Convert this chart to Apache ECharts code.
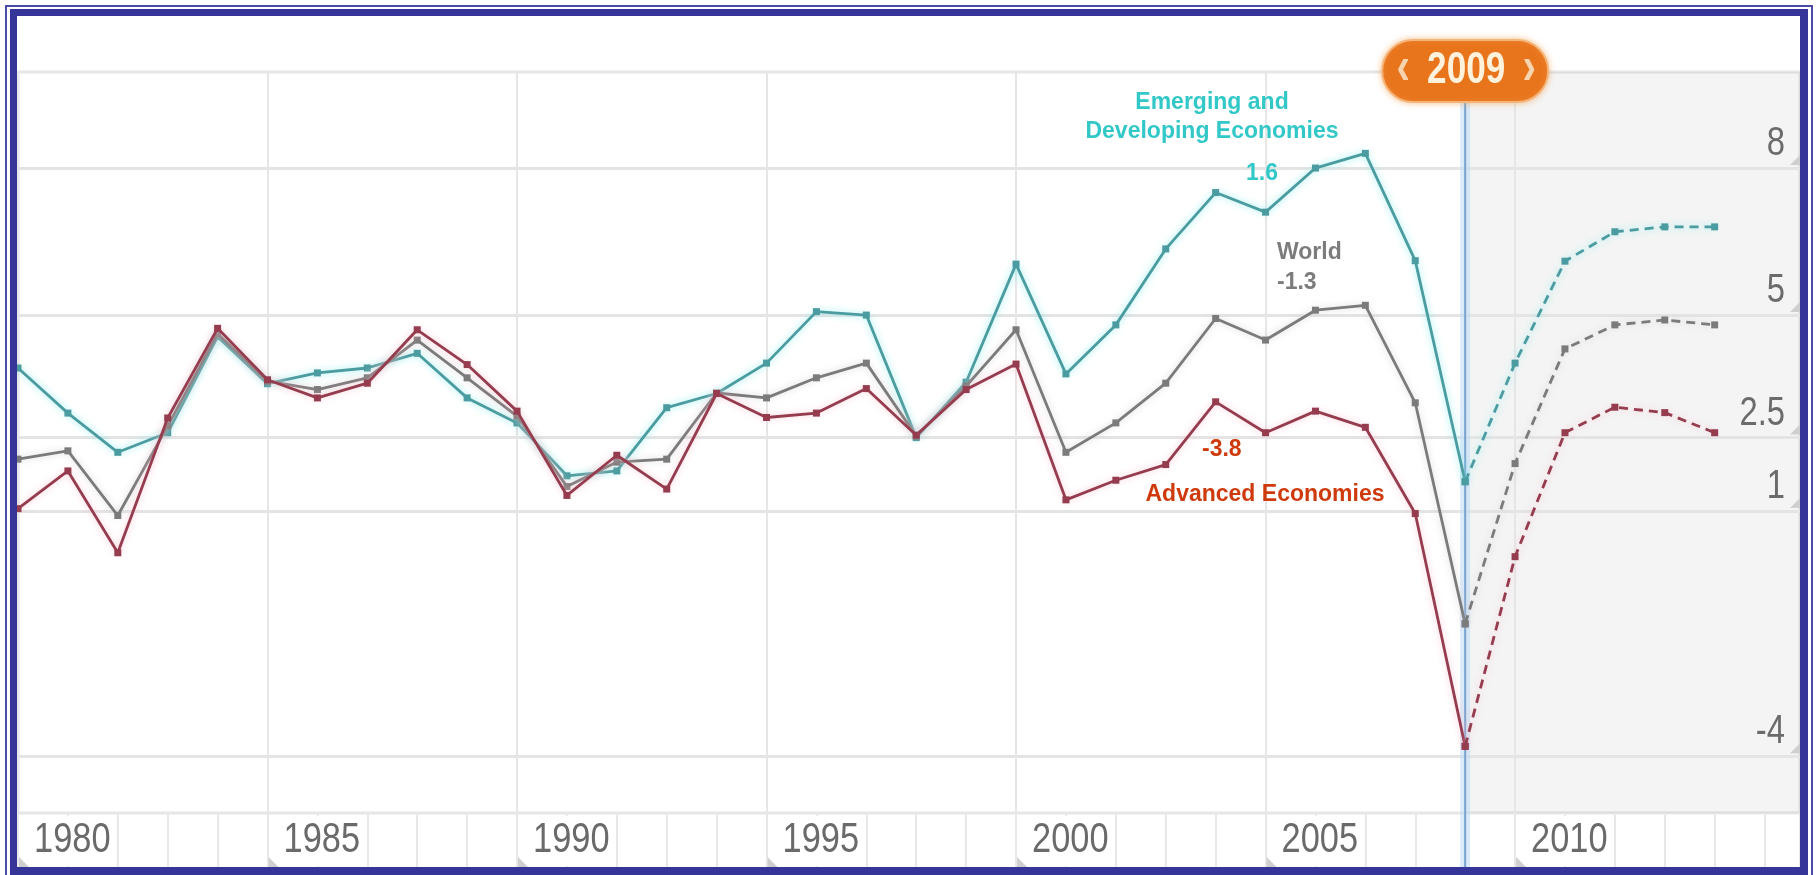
<!DOCTYPE html>
<html>
<head>
<meta charset="utf-8">
<script src="https://cdn.jsdelivr.net/npm/echarts@6/dist/echarts.min.js"></script>
<style>
html,body{margin:0;padding:0;background:#fff;overflow:hidden;}
#chart{position:absolute;left:0;top:0;width:1818px;height:875px;}
#thin{position:absolute;left:5px;top:5px;width:1804px;height:900px;border:2px solid #4a4aa8;pointer-events:none;}
#thick{position:absolute;left:10px;top:9px;right:10px;bottom:0;border-style:solid;border-color:#343499;border-width:7px 8px 8px 7px;pointer-events:none;}
</style>
</head>
<body>
<div id="chart"></div>
<div id="thin"></div>
<div id="thick"></div>
<script>
// ---- data ----
const years = [1980,1981,1982,1983,1984,1985,1986,1987,1988,1989,1990,1991,1992,1993,1994,1995,1996,1997,1998,1999,2000,2001,2002,2003,2004,2005,2006,2007,2008,2009,2010,2011,2012,2013,2014];
const emerging = [3.92,3.0,2.2,2.6,4.56,3.6,3.82,3.92,4.22,3.31,2.8,1.72,1.82,3.11,3.4,4.02,5.07,5.0,2.5,3.63,6.04,3.8,4.8,6.35,7.5,7.1,8.0,8.3,6.11,1.6,4.02,6.1,6.7,6.8,6.8];
const world    = [2.06,2.23,0.91,2.74,4.62,3.65,3.48,3.72,4.49,3.72,2.94,1.5,2.0,2.06,3.41,3.31,3.72,4.02,2.53,3.55,4.7,2.2,2.8,3.61,4.93,4.49,5.1,5.2,3.21,-1.3,1.97,4.31,4.8,4.9,4.8];
const advanced = [1.05,1.82,0.15,2.9,4.73,3.68,3.31,3.61,4.7,3.99,3.04,1.32,2.14,1.45,3.4,2.91,3.0,3.5,2.55,3.48,4.0,1.23,1.63,1.95,3.23,2.6,3.04,2.71,0.95,-3.8,0.07,2.6,3.12,3.01,2.6];
const forecastStart = 2009;
const yTicks = [8, 5, 2.5, 1, -4];
const xLabelYears = [1980, 1985, 1990, 1995, 2000, 2005, 2010];
const seriesNames = ['Emerging and Developing Economies', 'World', 'Advanced Economies'];

// ---- axis ranges / styling ----
const xMin = 1980, xMax = 2015.71;
const yMin = -5.16, yMax = 9.96;
const BAND = 54;            // height of the year band under the plot
const SANS = "'Liberation Sans',Arial,sans-serif";
const NARROW_X = 0.8;       // horizontal squeeze to mimic a narrow face
const colors = {
  emerging: {line:'#4b9ca0', glow:'rgba(120,235,235,0.8)'},
  world:    {line:'#7b7b7b', glow:'rgba(205,205,205,0.8)'},
  advanced: {line:'#963c4f', glow:'rgba(250,185,200,0.8)'}
};

const chart = echarts.init(document.getElementById('chart'), null, {renderer:'canvas'});

const fIdx = years.indexOf(forecastStart);
function actualPart(vals){ return years.slice(0, fIdx + 1).map((y, i) => [y, vals[i]]); }
function forecastPart(vals){ return years.slice(fIdx).map((y, i) => [y, vals[fIdx + i]]); }

function lineSeries(name, vals, c, dashed, z){
  return {
    name: name, type: 'line', z: z,
    data: dashed ? forecastPart(vals) : actualPart(vals),
    symbol: 'rect', symbolSize: 7, showSymbol: true,
    itemStyle: {color: c.line},
    lineStyle: {color: c.line, width: 2.8, type: dashed ? [9, 6] : 'solid',
                shadowColor: c.glow, shadowBlur: 7},
    emphasis: {disabled: true},
    silent: true
  };
}

const option = {
  animation: false,
  backgroundColor: '#ffffff',
  grid: {left: 18, right: 18, top: 72, bottom: 62, show: true,
         backgroundColor: '#ffffff', borderColor: '#e6e6e6', borderWidth: 3,
         outerBoundsMode: 'none', containLabel: false},
  xAxis: {
    type: 'value', min: xMin, max: xMax, interval: 1,
    axisLine: {show: false, onZero: false},
    splitLine: {show: false},
    axisTick: {show: true, inside: false, length: BAND, lineStyle: {color: '#e8e8e8', width: 2}},
    axisLabel: {show: false}
  },
  yAxis: {
    type: 'value', min: yMin, max: yMax, position: 'right',
    axisLine: {show: false}, axisTick: {show: false}, axisLabel: {show: false},
    splitLine: {show: false}
  },
  series: [
    { // forecast shading + gridlines
      name: 'grid', type: 'line', z: 1, silent: true, data: [[xMin, null]],
      symbol: 'none',
      markArea: {silent: true, z: 1, itemStyle: {color: 'rgba(0,0,0,0.045)'},
                 data: [[{xAxis: forecastStart}, {xAxis: xMax}]]},
      markLine: {
        silent: true, z: 2, symbol: ['none', 'none'],
        label: {show: false},
        lineStyle: {color: '#e4e4e4', width: 3, type: 'solid'},
        data: yTicks.map(v => ({yAxis: v}))
          .concat(xLabelYears.map(v => ({xAxis: v, lineStyle: {color: '#e6e6e6', width: 2, type: 'solid'}})))
      }
    },
    { // y tick labels + corner triangles
      name: 'yLabels', type: 'custom', z: 8, silent: true, clip: false,
      data: yTicks.map(v => [xMax, v]),
      renderItem: function(params, api){
        const v = api.value(1);
        const p = api.coord([xMax, v]);
        const R = p[0];
        return {type: 'group', children: [
          {type: 'text', x: R - 15, y: p[1] - 24, scaleX: NARROW_X,
           style: {text: String(v), x: 0, y: 0, align: 'right', verticalAlign: 'middle',
                   fill: '#6b6b6b', font: '41px ' + SANS}},
          {type: 'polygon', shape: {points: [[R, p[1] - 13], [R, p[1] - 3], [R - 10, p[1] - 3]]},
           style: {fill: '#cfcfcf'}}
        ]};
      }
    },
    { // x tick labels in the year band
      name: 'xLabels', type: 'custom', z: 8, silent: true, clip: false,
      data: xLabelYears.map(v => [v, yMin]),
      renderItem: function(params, api){
        const yr = api.value(0);
        const p = api.coord([yr, yMin]);
        const bandTop = p[1];
        return {type: 'group', children: [
          {type: 'rect', shape: {x: p[0] + 3, y: bandTop + 3, width: 93, height: BAND - 4},
           style: {fill: '#ffffff'}},
          {type: 'text', x: p[0] + 16, y: bandTop + 27, scaleX: NARROW_X,
           style: {text: String(yr), x: 0, y: 0, align: 'left', verticalAlign: 'middle',
                   fill: '#6a6a6a', font: '43px ' + SANS}},
          {type: 'polygon', shape: {points: [[p[0] + 1, bandTop + BAND - 10], [p[0] + 1, bandTop + BAND], [p[0] + 11, bandTop + BAND]]},
           style: {fill: '#cfcfcf'}}
        ]};
      }
    },
    { // highlighted year marker with badge
      name: 'highlight', type: 'custom', z: 3, silent: true, clip: false,
      data: [[forecastStart, yMax]],
      renderItem: function(params, api){
        const yr = api.value(0);
        const p = api.coord([yr, yMax]);
        const cs = params.coordSys;
        const x = p[0];
        const top = cs.y;
        const bottom = cs.y + cs.height + BAND;
        return {type: 'group', children: [
          {type: 'rect', shape: {x: x - 5, y: top, width: 10, height: bottom - top},
           style: {fill: 'rgba(195,220,245,0.6)'}},
          {type: 'line', shape: {x1: x, y1: top, x2: x, y2: bottom},
           style: {stroke: '#7ba3cf', lineWidth: 2}},
          {type: 'rect', shape: {x: x - 83, y: top - 32, width: 166, height: 62, r: 31},
           style: {fill: '#e8741c', stroke: '#f5b57a', lineWidth: 2, shadowColor: 'rgba(245,160,80,0.6)', shadowBlur: 6}},
          {type: 'text', x: x + 1, y: top - 1, scaleX: 0.78,
           style: {text: String(yr), x: 0, y: 0, align: 'center', verticalAlign: 'middle',
                   fill: '#fff2dc', font: 'bold 45px ' + SANS}},
          {type: 'text', x: x - 62, y: top - 3, scaleX: 0.75,
           style: {text: '‹', x: 0, y: 0, align: 'center', verticalAlign: 'middle',
                   fill: '#f7d3ae', font: 'bold 54px ' + SANS}},
          {type: 'text', x: x + 64, y: top - 3, scaleX: 0.75,
           style: {text: '›', x: 0, y: 0, align: 'center', verticalAlign: 'middle',
                   fill: '#f7d3ae', font: 'bold 54px ' + SANS}}
        ]};
      }
    },
    lineSeries(seriesNames[0], emerging, colors.emerging, false, 4),
    lineSeries(seriesNames[0], emerging, colors.emerging, true, 4),
    lineSeries(seriesNames[1], world, colors.world, false, 5),
    lineSeries(seriesNames[1], world, colors.world, true, 5),
    lineSeries(seriesNames[2], advanced, colors.advanced, false, 6),
    lineSeries(seriesNames[2], advanced, colors.advanced, true, 6)
  ],
  graphic: [
    {type: 'text', z: 50, style: {text: 'Emerging and\nDeveloping Economies', x: 1212, y: 117,
      align: 'center', verticalAlign: 'middle', lineHeight: 29, fill: '#33c8c8', font: 'bold 23px ' + SANS}},
    {type: 'text', z: 50, style: {text: String(emerging[fIdx]), x: 1262, y: 174,
      align: 'center', verticalAlign: 'middle', fill: '#33c8c8', font: 'bold 23px ' + SANS}},
    {type: 'text', z: 50, style: {text: 'World', x: 1277, y: 253,
      align: 'left', verticalAlign: 'middle', fill: '#7c7c7c', font: 'bold 23px ' + SANS}},
    {type: 'text', z: 50, style: {text: String(world[fIdx]), x: 1277, y: 283,
      align: 'left', verticalAlign: 'middle', fill: '#7c7c7c', font: 'bold 23px ' + SANS}},
    {type: 'text', z: 50, style: {text: String(advanced[fIdx]), x: 1202, y: 450,
      align: 'left', verticalAlign: 'middle', fill: '#cf3a0c', font: 'bold 23px ' + SANS}},
    {type: 'text', z: 50, style: {text: 'Advanced Economies', x: 1265, y: 495,
      align: 'center', verticalAlign: 'middle', fill: '#cf3a0c', font: 'bold 23px ' + SANS}}
  ]
};
chart.setOption(option);
</script>
</body>
</html>
